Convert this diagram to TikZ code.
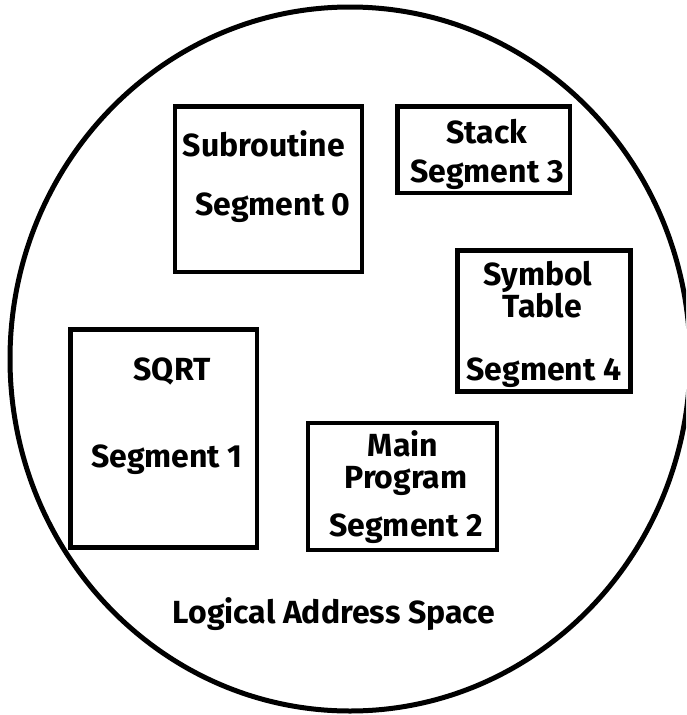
\documentclass[tikz,border=0pt]{standalone}
\usepackage{fontspec}
\setsansfont{Fira Sans}

\tikzset{
  segbox/.style={draw, line width=4.5pt, inner sep=0pt},
  seglabel/.style={font=\sffamily\bfseries\fontsize{32}{32}\selectfont, anchor=base, inner sep=0pt},
}

\begin{document}
\begin{tikzpicture}[x=1pt,y=-1pt]
    \useasboundingbox (0,0) rectangle (686,715);
    \clip (0,0) rectangle (686,715);

    % Logical address space
    \draw[line width=5pt] (350,359) ellipse [x radius=340, y radius=352];
    \node[seglabel] (space) at (334,623) {Logical Address Space};

    % Segment 0
    \node[segbox, minimum width=187pt, minimum height=165.5pt] (sub) at (268.5,189.25) {};
    \node[seglabel] (subname) at (264,156) {Subroutine};
    \node[seglabel] (subseg) at (273,215) {Segment 0};

    % Segment 3
    \node[segbox, minimum width=172.5pt, minimum height=86.5pt] (stack) at (483.75,149.75) {};
    \node[seglabel] (stackname) at (487,143) {Stack};
    \node[seglabel] (stackseg) at (487,182) {Segment 3};

    % Segment 4
    \node[segbox, minimum width=173pt, minimum height=141pt] (symtab) at (544,321) {};
    \node[seglabel] (symname) at (538,285) {Symbol};
    \node[seglabel] (symname2) at (542,317) {Table};
    \node[seglabel] (symseg) at (544,380) {Segment 4};

    % Segment 1
    \node[segbox, minimum width=186.5pt, minimum height=218pt] (sqrt) at (163.75,438.5) {};
    \node[seglabel] (sqrtname) at (172,380) {SQRT};
    \node[seglabel] (sqrtseg) at (167,467) {Segment 1};

    % Segment 2
    \node[segbox, minimum width=189pt, minimum height=127pt] (main) at (402.5,486.5) {};
    \node[seglabel] (mainname) at (403,456) {Main};
    \node[seglabel] (mainname2) at (406,488) {Program};
    \node[seglabel] (mainseg) at (406,536) {Segment 2};
\end{tikzpicture}
\end{document}
